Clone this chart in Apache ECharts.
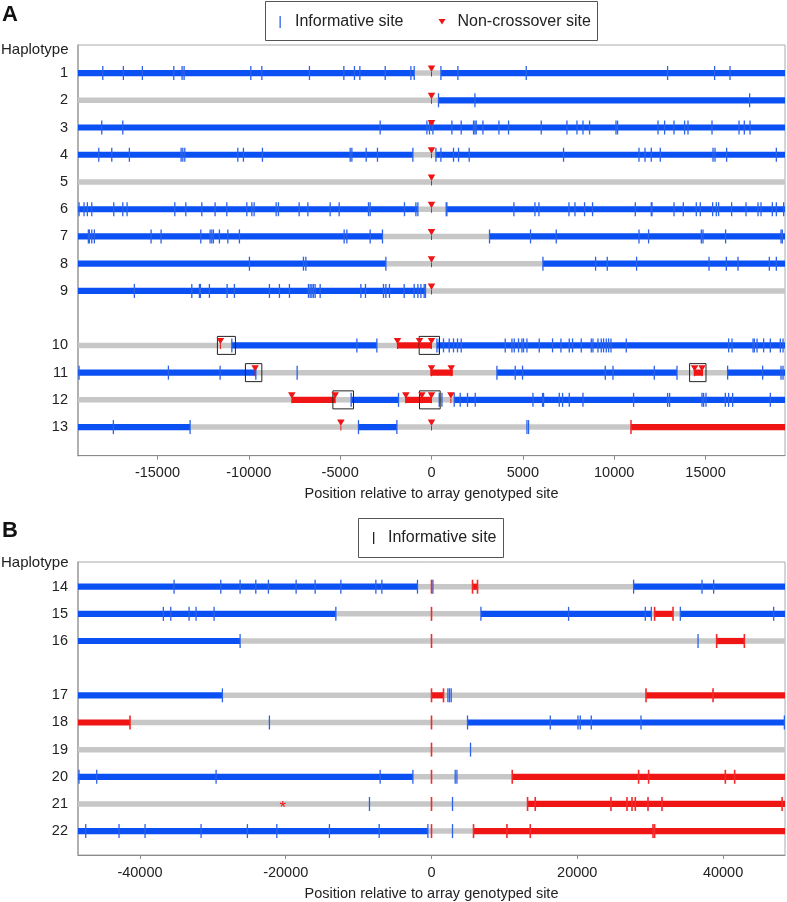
<!DOCTYPE html>
<html>
<head>
<meta charset="utf-8">
<script src="https://cdn.jsdelivr.net/npm/echarts@6/dist/echarts.min.js"></script>
<style>
html,body{margin:0;padding:0;background:#fff;}
#chart{width:787px;height:902px;}
</style>
</head>
<body>
<div id="chart"></div>
<script>
// ---------------- DATA ----------------
// Panel A haplotype rows ('' = spacer row)
const haplotypesA = ['1','2','3','4','5','6','7','8','9','','10','11','12','13'];
// Panel B haplotype rows
const haplotypesB = ['14','15','16','','17','18','19','20','21','22'];

const xTicksA = [-15000,-10000,-5000,0,5000,10000,15000];
const xTicksB = [-40000,-20000,0,20000,40000];

// segments: [haplotype, from, to, state]  B = blue, R = red, G = grey (uninformative)
const segmentsA = [
  ['1',-19350,-947,'B'],['1',-947,515,'G'],['1',515,19350,'B'],
  ['2',-19350,383,'G'],['2',383,19350,'B'],
  ['3',-19350,19350,'B'],
  ['4',-19350,-1019,'B'],['4',-1019,241,'G'],['4',241,19350,'B'],
  ['5',-19350,19350,'G'],
  ['6',-19350,-745,'B'],['6',-745,805,'G'],['6',805,19350,'B'],
  ['7',-19350,-2683,'B'],['7',-2683,3176,'G'],['7',3176,19350,'B'],
  ['8',-19350,-2497,'B'],['8',-2497,6100,'G'],['8',6100,19350,'B'],
  ['9',-19350,-329,'B'],['9',-329,19350,'G'],
  ['10',-19350,-10930,'G'],['10',-10930,-2990,'B'],['10',-2990,-1895,'G'],['10',-1895,22,'R'],['10',22,296,'G'],['10',296,19350,'B'],
  ['11',-19350,-9616,'B'],['11',-9616,-71,'G'],['11',-71,1172,'R'],['11',1172,3581,'G'],['11',3581,13438,'B'],['11',13438,14347,'G'],['11',14347,14862,'R'],['11',14862,16209,'G'],['11',16209,19350,'B'],
  ['12',-19350,-7645,'G'],['12',-7645,-5273,'R'],['12',-5273,-4397,'G'],['12',-4397,-1807,'B'],['12',-1807,-1440,'G'],['12',-1440,22,'R'],['12',22,1243,'G'],['12',1243,19350,'B'],
  ['13',-19350,-13214,'B'],['13',-13214,-3997,'G'],['13',-3997,-1895,'B'],['13',-1895,10919,'G'],['13',10919,19350,'R']
];
const segmentsB = [
  ['14',-48500,-1922,'B'],['14',-1922,5628,'G'],['14',5628,6314,'R'],['14',6314,27729,'G'],['14',27729,48500,'B'],
  ['15',-48500,-13123,'B'],['15',-13123,6781,'G'],['15',6781,30158,'B'],['15',30158,30611,'G'],['15',30611,33137,'R'],['15',33137,34139,'G'],['15',34139,48500,'B'],
  ['16',-48500,-26260,'B'],['16',-26260,39122,'G'],['16',39122,42924,'R'],['16',42924,48500,'G'],
  ['17',-48500,-28689,'B'],['17',-28689,0,'G'],['17',0,1647,'R'],['17',1647,29431,'G'],['17',29431,48500,'R'],
  ['18',-48500,-41360,'R'],['18',-41360,4942,'G'],['18',4942,48500,'B'],
  ['19',-48500,48500,'G'],
  ['20',-48500,-2553,'B'],['20',-2553,11078,'G'],['20',11078,48500,'R'],
  ['21',-48500,13178,'G'],['21',13178,48500,'R'],
  ['22',-48500,-494,'B'],['22',-494,5765,'G'],['22',5765,48500,'R']
];

// informative sites (blue ticks)
const infoSitesA = [
  ['1',[-17994,-16866,-15826,-14106,-13652,-13542,-9890,-9287,-6681,-4797,-4217,-3921,-2535,-1128,-947,515,1446,5186,12923,15497,16340]],
  ['2',[383,2377,17414]],
  ['3',[-18049,-16899,-2809,-252,-110,77,1117,1626,2300,2377,2448,2815,3691,4217,6007,7414,7962,8291,8652,10098,10185,12398,12759,13274,13854,14040,15355,16833,17123,17436]],
  ['4',[-18213,-17501,-16538,-13706,-13613,-13504,-10601,-10295,-9254,-4452,-4359,-3576,-2957,-1019,241,515,1205,1479,2064,7228,11357,11686,12031,12524,15409,15519,16154,18876]],
  ['5',[]],
  ['6',[-19292,-19018,-18837,-18596,-17392,-16899,-16663,-14051,-13449,-12573,-11845,-11204,-10109,-9835,-9709,-8504,-8378,-7245,-6768,-5547,-5054,-3450,-3357,-1479,-854,-745,805,843,4512,5662,5881,7524,7853,8378,8816,11155,12031,12069,13274,13783,14495,14714,15388,15590,15716,16428,17216,17874,18038,18657,18876,19276]],
  ['7',[-18783,-18728,-18596,-18454,-15349,-14802,-12628,-12118,-12025,-11938,-11609,-11149,-10514,-4781,-4633,-3357,-2683,3176,5421,6829,11357,11883,14769,14862,16099,19133,19204]],
  ['8',[-9966,-7009,-6878,-2497,6100,8981,9621,11226,15190,16138,16778,18493,18876]],
  ['9',[-16264,-13121,-12704,-12650,-12157,-11188,-10788,-8871,-8324,-7776,-6735,-6642,-6549,-6462,-6369,-6095,-3866,-3614,-2628,-2497,-2300,-1495,-947,-745,-580,-400,-329]],
  ['10',[-10930,-4085,-2990,296,422,657,969,1205,1424,1626,4036,4403,4529,4764,4950,5038,5224,5898,6626,7086,7541,7721,8198,8745,8838,9112,9293,9419,9567,9693,9824,10662,16264,16450,17600,17671,17819,18180,18547,19095,19243]],
  ['11',[-19292,-14402,-11571,-9616,-7354,3581,4583,4983,9512,9933,12195,13438,16209,18126,19133,19243]],
  ['12',[-4397,-1807,422,570,1243,1572,1971,2393,5553,6078,6133,6993,7174,7541,8291,11062,12923,13033,14807,14895,15026,16083,16264,16483,18547]],
  ['13',[-17414,-13214,-3997,-1895,5224,5312]]
];
const redSitesA = [
  ['13',[10919]]
];
// non-crossover sites (red triangles)
const ncoSitesA = [
  ['1',[0]],['2',[0]],['3',[0]],['4',[0]],['5',[0]],['6',[0]],['7',[0]],['8',[0]],['9',[0]],
  ['10',[-11554,-1862,-657,0]],
  ['11',[-9654,0,1080,14402,14807]],
  ['12',[-7645,-5273,-1402,-526,0,1062]],
  ['13',[-4961,0]]
];
// boxed regions: [haplotype, from, to]
const boxesA = [
  ['10',-11719,-10733],['10',-674,438],
  ['11',-10185,-9287],['11',14128,15026],
  ['12',-5399,-4271],['12',-657,476]
];

const infoSitesB = [
  ['14',[-35320,-28909,-26260,-24105,-22375,-18573,-15965,-12437,-7632,-6809,-1922,192,27729,37118,38710]],
  ['15',[-36788,-35773,-33260,-32300,-29829,-13123,6781,18806,29335,30158,34139,46946]],
  ['16',[-26260,36569]],
  ['17',[-28689,2251,2471,2704]],
  ['18',[-22238,4942,16294,20096,20412,21922,28744,48415]],
  ['19',[5354]],
  ['20',[-48361,-45930,-29555,-7042,-2553,3253,3487]],
  ['21',[-8511,2883]],
  ['22',[-47441,-42870,-39301,-31613,-25258,-21222,-14002,-7179,-494,2883]]
];
const redSitesB = [
  ['14',[0,5628,6314]],
  ['15',[0,30611,33137]],
  ['16',[0,39122,42924]],
  ['17',[0,1647,29431,38628]],
  ['18',[-41360,0]],
  ['19',[0]],
  ['20',[0,11078,28415,29788,40316,41593]],
  ['21',[0,13178,14235,24627,26823,27509,27963,29705,31627,48100]],
  ['22',[0,5765,10350,13549,30391,30611]]
];
const starsB = [['21',-20398]];

// ---------------- STYLE ----------------
const FONT = '"Liberation Sans", Arial, Helvetica, sans-serif';
const BLUE = '#0b50f2', RED = '#f01515', GREY = '#c7c7c7', TICKBLUE = '#2b62ea', TICKRED = '#f22a2a';

function slot(labels, h){ return labels.indexOf(h) + 1; }

function segData(segs, labels, state){
  return segs.filter(s => s[3] === state).map(s => [s[1], s[2], slot(labels, s[0])]);
}
function pointData(list, labels){
  const out = [];
  list.forEach(r => r[1].forEach(v => out.push([v, slot(labels, r[0])])));
  return out;
}

function segSeries(idx, data, color, h){
  return {
    type: 'custom', xAxisIndex: idx, yAxisIndex: idx, silent: true, clip: true,
    encode: {x: [0,1], y: 2},
    data: data,
    renderItem: function(params, api){
      const p1 = api.coord([api.value(0), api.value(2)]);
      const p2 = api.coord([api.value(1), api.value(2)]);
      return {type: 'rect', shape: {x: p1[0], y: p1[1] - h/2, width: p2[0] - p1[0], height: h},
              style: {fill: color}};
    }
  };
}
function tickSeries(idx, data, color, w){
  return {
    type: 'scatter', xAxisIndex: idx, yAxisIndex: idx, silent: true,
    symbol: 'rect', symbolSize: [w, 14],
    itemStyle: {color: color, opacity: 1},
    data: data, z: 3
  };
}

const segA = [
  segSeries(0, segData(segmentsA, haplotypesA, 'G'), GREY, 5.5),
  segSeries(0, segData(segmentsA, haplotypesA, 'B'), BLUE, 6.2),
  segSeries(0, segData(segmentsA, haplotypesA, 'R'), RED, 6.2)
];
const segB = [
  segSeries(1, segData(segmentsB, haplotypesB, 'G'), GREY, 5.5),
  segSeries(1, segData(segmentsB, haplotypesB, 'B'), BLUE, 6.2),
  segSeries(1, segData(segmentsB, haplotypesB, 'R'), RED, 6.2)
];

const boxSeries = {
  type: 'custom', xAxisIndex: 0, yAxisIndex: 0, silent: true, z: 5,
  encode: {x: [0,1], y: 2},
  data: boxesA.map(b => [b[1], b[2], slot(haplotypesA, b[0])]),
  renderItem: function(params, api){
    const p1 = api.coord([api.value(0), api.value(2)]);
    const p2 = api.coord([api.value(1), api.value(2)]);
    return {type: 'rect', shape: {x: p1[0], y: p1[1] - 9, width: p2[0] - p1[0], height: 18},
            style: {fill: 'none', stroke: '#222', lineWidth: 1}};
  }
};
const ncoSeries = {
  type: 'scatter', xAxisIndex: 0, yAxisIndex: 0, silent: true, z: 6,
  symbol: 'path://M0,0L12,0L6,10ZM5.2,10L6.8,10L6.8,17L5.2,17Z',
  symbolSize: [7.5, 11], symbolOffset: [0, -2],
  itemStyle: {color: RED, opacity: 1},
  data: pointData(ncoSitesA, haplotypesA)
};
const starSeries = {
  type: 'custom', xAxisIndex: 1, yAxisIndex: 1, silent: true, z: 6,
  encode: {x: 0, y: 1},
  data: starsB.map(s => [s[1], slot(haplotypesB, s[0])]),
  renderItem: function(params, api){
    const p = api.coord([api.value(0), api.value(1)]);
    return {type: 'text', x: p[0], y: p[1] + 4,
            style: {text: '*', fill: RED, fontSize: 17, fontFamily: FONT, align: 'center', verticalAlign: 'middle'}};
  }
};

function xAxis(idx, lim, ticks){
  return {
    type: 'value', gridIndex: idx, min: -lim, max: lim,
    splitLine: {show: false},
    axisLine: {show: true, onZero: false, lineStyle: {color: '#8a8a8a', width: 1}},
    axisTick: {show: true, customValues: ticks, length: 4, lineStyle: {color: '#8a8a8a'}},
    axisLabel: {customValues: ticks, color: '#222', fontSize: 14.5, fontFamily: FONT, margin: 10,
                formatter: v => String(v)},
    name: 'Position relative to array genotyped site',
    nameLocation: 'middle', nameGap: 31,
    nameTextStyle: {color: '#222', fontSize: 14.5, fontFamily: FONT}
  };
}
function yAxis(idx, labels, min, max){
  const vals = labels.map((l, i) => i + 1);
  return {
    type: 'value', gridIndex: idx, inverse: true, min: min, max: max,
    splitLine: {show: false},
    axisLine: {show: true, onZero: false, lineStyle: {color: '#a5a5a5', width: 1.5}},
    axisTick: {show: false},
    axisLabel: {customValues: vals, color: '#222', fontSize: 14.5, fontFamily: FONT, margin: 10,
                formatter: v => labels[Math.round(v) - 1] || ''}
  };
}

const option = {
  backgroundColor: '#fff',
  animation: false,
  grid: [
    {left: 78, right: 2, top: 45, height: 410.7, show: true, borderColor: '#aaa', borderWidth: 1},
    {left: 78, right: 2, top: 562, height: 296, show: true, borderColor: '#aaa', borderWidth: 1}
  ],
  xAxis: [xAxis(0, 19350, xTicksA), xAxis(1, 48500, xTicksB)],
  yAxis: [yAxis(0, haplotypesA, -0.03, 15.05), yAxis(1, haplotypesB, 0.09, 10.88)],
  graphic: [
    {type: 'text', left: 2, top: 4, style: {text: 'A', font: 'bold 22px ' + FONT, fill: '#111'}},
    {type: 'text', left: 2, top: 520, style: {text: 'B', font: 'bold 22px ' + FONT, fill: '#111'}},
    {type: 'text', left: 1, top: 42, style: {text: 'Haplotype', font: '15px ' + FONT, fill: '#222'}},
    {type: 'text', left: 1, top: 555, style: {text: 'Haplotype', font: '15px ' + FONT, fill: '#222'}},
    // legend A
    {type: 'rect', shape: {x: 265.5, y: 1.5, width: 332, height: 39}, style: {fill: '#fff', stroke: '#555', lineWidth: 1}},
    {type: 'rect', shape: {x: 279.5, y: 16, width: 1.3, height: 12}, style: {fill: TICKBLUE}},
    {type: 'text', x: 295, y: 22, style: {text: 'Informative site', font: '16px ' + FONT, fill: '#222', verticalAlign: 'middle'}},
    {type: 'polygon', shape: {points: [[438.5, 19], [445.5, 19], [442, 24.5]]}, style: {fill: RED}},
    {type: 'text', x: 457.5, y: 22, style: {text: 'Non-crossover site', font: '16px ' + FONT, fill: '#222', verticalAlign: 'middle'}},
    // legend B
    {type: 'rect', shape: {x: 358.5, y: 518.5, width: 145, height: 39}, style: {fill: '#fff', stroke: '#555', lineWidth: 1}},
    {type: 'rect', shape: {x: 373, y: 532, width: 1.3, height: 12}, style: {fill: '#222'}},
    {type: 'text', x: 388, y: 538, style: {text: 'Informative site', font: '16px ' + FONT, fill: '#222', verticalAlign: 'middle'}}
  ],
  series: [
    ...segA,
    tickSeries(0, pointData(infoSitesA, haplotypesA), TICKBLUE, 1.3),
    tickSeries(0, pointData(redSitesA, haplotypesA), TICKRED, 1.5),
    ncoSeries,
    boxSeries,
    ...segB,
    tickSeries(1, pointData(infoSitesB, haplotypesB), TICKBLUE, 1.3),
    tickSeries(1, pointData(redSitesB, haplotypesB), TICKRED, 1.6),
    starSeries
  ]
};

const chart = echarts.init(document.getElementById('chart'), null, {renderer: 'canvas'});
chart.setOption(option);
</script>
</body>
</html>
